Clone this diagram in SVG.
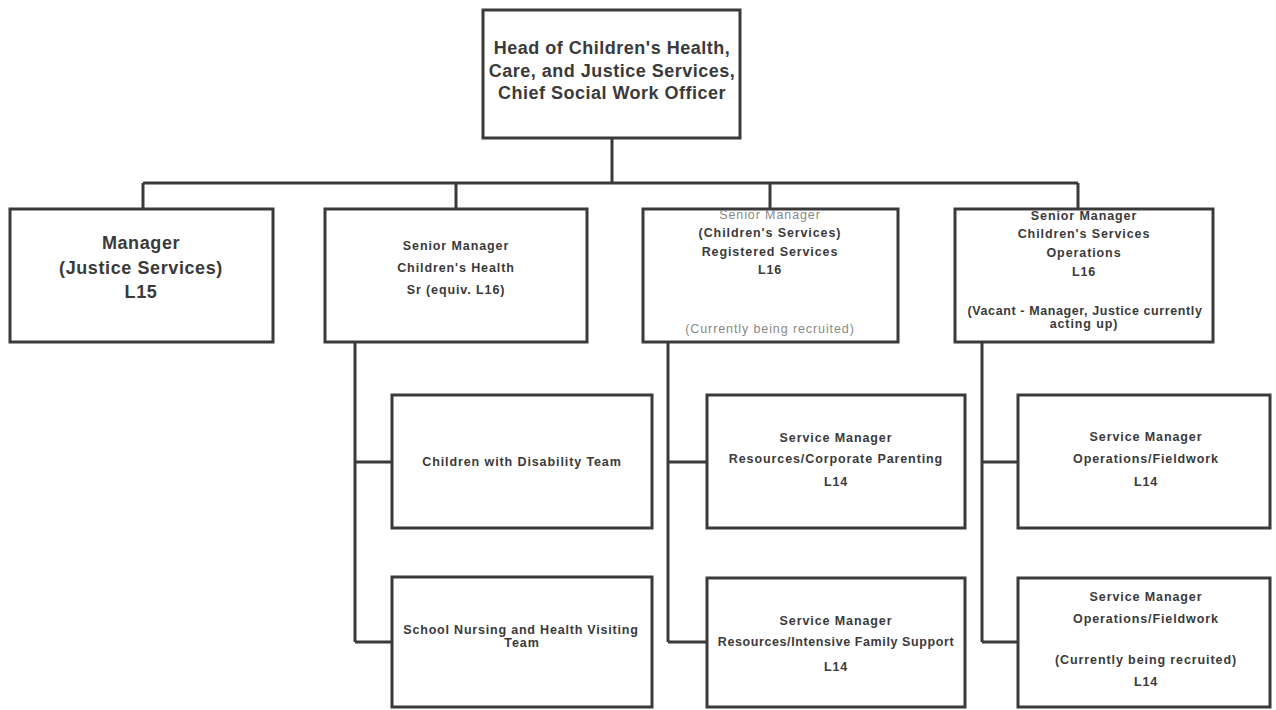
<svg xmlns="http://www.w3.org/2000/svg" width="1276" height="710" viewBox="0 0 1276 710">
<style>
.box{fill:#fff;stroke:#3a3a3a;stroke-width:3}
.ln{fill:none;stroke:#3a3a3a;stroke-width:3}
text{font-family:"Liberation Sans",Arial,sans-serif;fill:#3a3a3a;text-anchor:middle;font-weight:bold}
.big{font-size:18px;letter-spacing:0.5px}
.mid{font-size:18px;letter-spacing:0.6px}
.sm{font-size:12.5px;letter-spacing:0.9px}
.grey{fill:#888;font-weight:normal}
</style>
<rect width="1276" height="710" fill="#fff"/>
<g id="connectors">
<path class="ln" d="M612 138V183M143 183H1078M143 183V209M456 183V209M770 183V209M1078 183V209"/>
<path class="ln" d="M355 342V642M355 462H392M355 642H392"/>
<path class="ln" d="M668 342V642M668 462H707M668 642H707"/>
<path class="ln" d="M982 342V642M982 462H1018M982 642H1018"/>
</g>
<g id="head">
<rect class="box" x="483" y="10" width="257" height="128"/>
<text class="big" x="612" y="54">Head of Children's Health,</text>
<text class="big" x="612" y="77">Care, and Justice Services,</text>
<text class="big" x="612" y="99">Chief Social Work Officer</text>
</g>
<g id="manager-justice">
<rect class="box" x="10" y="209" width="263" height="133"/>
<text class="mid" x="141" y="249">Manager</text>
<text class="mid" x="141" y="274">(Justice Services)</text>
<text class="mid" x="141" y="298">L15</text>
</g>
<g id="sm-childrens-health">
<rect class="box" x="325" y="209" width="262" height="133"/>
<text class="sm" x="456" y="250">Senior  Manager</text>
<text class="sm" x="456" y="272">Children's Health</text>
<text class="sm" x="456" y="294">Sr (equiv. L16)</text>
</g>
<g id="sm-registered">
<rect class="box" x="643" y="209" width="255" height="133"/>
<text class="sm grey" x="770" y="219">Senior Manager</text>
<text class="sm" x="770" y="237">(Children's Services)</text>
<text class="sm" x="770" y="256">Registered Services</text>
<text class="sm" x="770" y="274">L16</text>
<text class="sm grey" x="770" y="333">(Currently being recruited)</text>
</g>
<g id="sm-operations">
<rect class="box" x="955" y="209" width="258" height="133"/>
<text class="sm" x="1084" y="220">Senior Manager</text>
<text class="sm" x="1084" y="238">Children's Services</text>
<text class="sm" x="1084" y="257">Operations</text>
<text class="sm" x="1084" y="276">L16</text>
<text class="sm" x="1085" y="315" style="letter-spacing:0.6px">(Vacant - Manager, Justice currently</text>
<text class="sm" x="1084" y="328">acting up)</text>
</g>
<g id="disability-team">
<rect class="box" x="392" y="395" width="260" height="133"/>
<text class="sm" x="522" y="466">Children with Disability Team</text>
</g>
<g id="school-nursing">
<rect class="box" x="392" y="577" width="260" height="130"/>
<text class="sm" x="521" y="634" style="letter-spacing:0.8px">School  Nursing and Health Visiting</text>
<text class="sm" x="522" y="647">Team</text>
</g>
<g id="resources-corporate">
<rect class="box" x="707" y="395" width="258" height="133"/>
<text class="sm" x="836" y="442">Service Manager</text>
<text class="sm" x="836" y="463">Resources/Corporate  Parenting</text>
<text class="sm" x="836" y="486">L14</text>
</g>
<g id="resources-intensive">
<rect class="box" x="707" y="578" width="258" height="129"/>
<text class="sm" x="836" y="625">Service Manager</text>
<text class="sm" x="836" y="646" style="letter-spacing:0.6px">Resources/Intensive  Family Support</text>
<text class="sm" x="836" y="671">L14</text>
</g>
<g id="ops-fieldwork-1">
<rect class="box" x="1018" y="395" width="252" height="133"/>
<text class="sm" x="1146" y="441">Service Manager</text>
<text class="sm" x="1146" y="463">Operations/Fieldwork</text>
<text class="sm" x="1146" y="486">L14</text>
</g>
<g id="ops-fieldwork-2">
<rect class="box" x="1018" y="578" width="252" height="129"/>
<text class="sm" x="1146" y="601">Service Manager</text>
<text class="sm" x="1146" y="623">Operations/Fieldwork</text>
<text class="sm" x="1146" y="664">(Currently being recruited)</text>
<text class="sm" x="1146" y="686">L14</text>
</g>
</svg>
